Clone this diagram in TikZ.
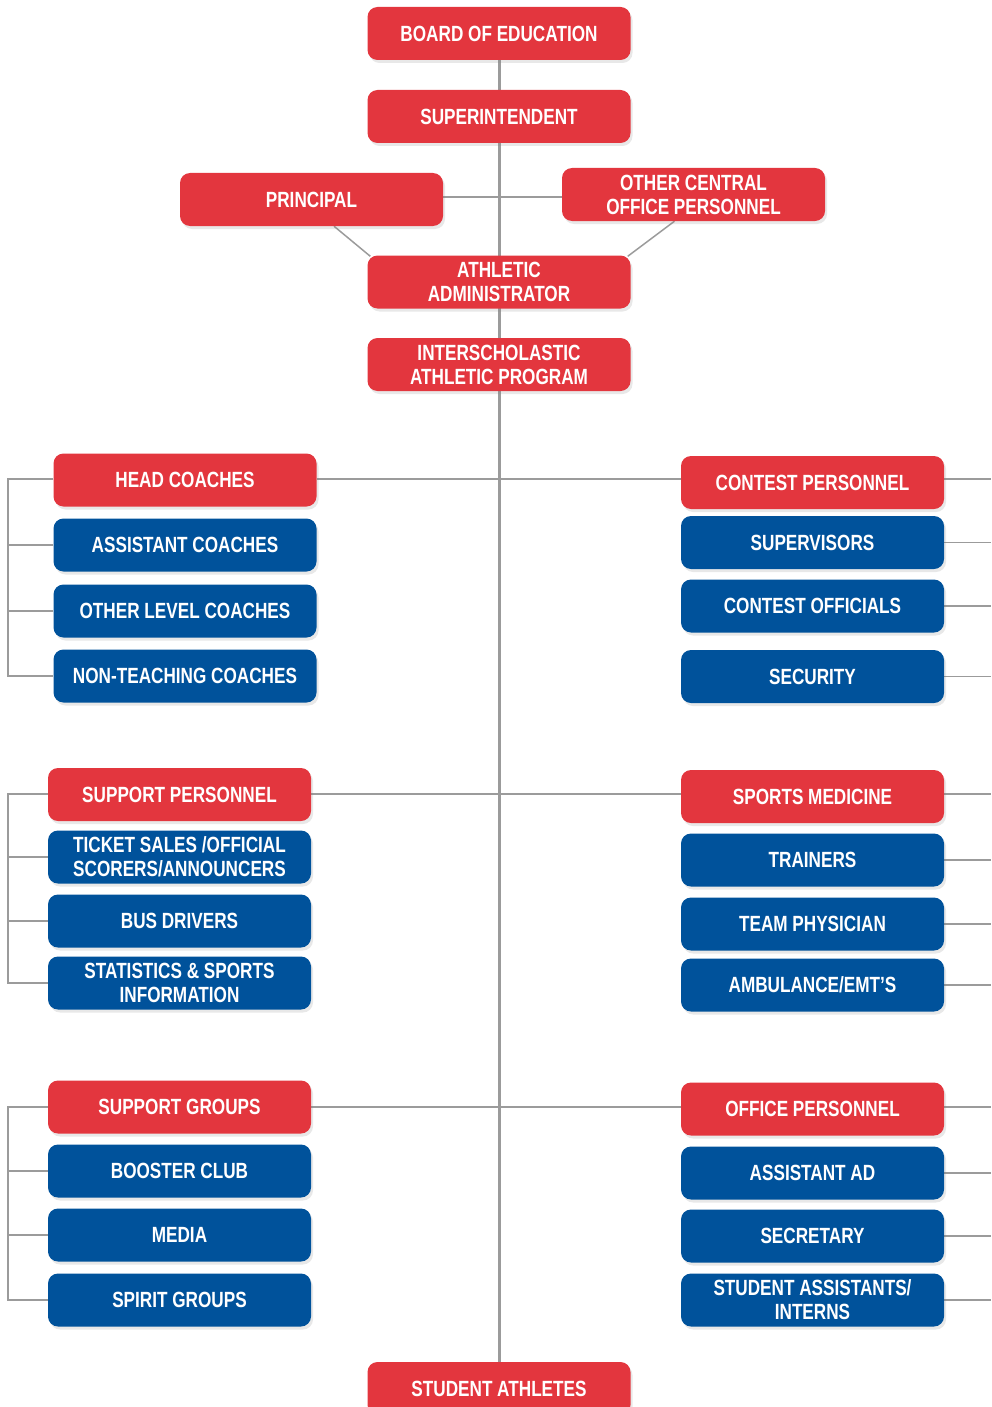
\documentclass[tikz,border=0pt]{standalone}
\usepackage{fontspec}
\setmainfont{Liberation Sans}[FakeStretch=0.78]
\usetikzlibrary{shadows,backgrounds}
\definecolor{boxred}{HTML}{E3363E}
\definecolor{boxblue}{HTML}{00529B}
\definecolor{linegray}{HTML}{9B9B9B}
\begin{document}
\begin{tikzpicture}[x=1pt,y=-1pt,
  box/.style={rectangle, rounded corners=10pt, minimum width=263pt, minimum height=53pt,
    inner sep=0pt, text=white, font=\fontsize{22}{24}\selectfont\bfseries, align=center,
    drop shadow={opacity=0.18, shadow xshift=2pt, shadow yshift=-3pt}},
  redbox/.style={box, fill=boxred},
  bluebox/.style={box, fill=boxblue},
  trunk/.style={draw=linegray, line width=3pt},
  conn/.style={draw=linegray, line width=1.5pt}]
\useasboundingbox (0,0) rectangle (991,1407);
\clip (0,0) rectangle (991,1407);

% top chain
\node[redbox] (board) at (499,33.5) {BOARD OF EDUCATION};
\node[redbox] (sup) at (499,116.5) {SUPERINTENDENT};
\node[redbox] (prin) at (311.5,199.5) {PRINCIPAL};
\node[redbox] (ocp) at (693.5,194.5) {OTHER CENTRAL\\OFFICE PERSONNEL};
\node[redbox] (ad) at (499,282) {ATHLETIC\\ADMINISTRATOR};
\node[redbox] (iap) at (499,364.5) {INTERSCHOLASTIC\\ATHLETIC PROGRAM};
\node[redbox] (stud) at (499,1388.5) {STUDENT ATHLETES};

% left groups
\node[redbox] (hc) at (185,480) {HEAD COACHES};
\node[bluebox] (ac) at (185,545) {ASSISTANT COACHES};
\node[bluebox] (olc) at (185,611) {OTHER LEVEL COACHES};
\node[bluebox] (ntc) at (185,676) {NON-TEACHING COACHES};

\node[redbox] (sp) at (179.5,794.5) {SUPPORT PERSONNEL};
\node[bluebox] (ts) at (179.5,857) {TICKET SALES /OFFICIAL\\SCORERS/ANNOUNCERS};
\node[bluebox] (bd) at (179.5,921) {BUS DRIVERS};
\node[bluebox] (st) at (179.5,983) {STATISTICS \& SPORTS\\INFORMATION};

\node[redbox] (sg) at (179.5,1107) {SUPPORT GROUPS};
\node[bluebox] (bc) at (179.5,1171) {BOOSTER CLUB};
\node[bluebox] (md) at (179.5,1235) {MEDIA};
\node[bluebox] (spg) at (179.5,1300) {SPIRIT GROUPS};

% right groups
\node[redbox] (cp) at (812.5,482.5) {CONTEST PERSONNEL};
\node[bluebox] (sv) at (812.5,542.5) {SUPERVISORS};
\node[bluebox] (co) at (812.5,606) {CONTEST OFFICIALS};
\node[bluebox] (sec) at (812.5,676.5) {SECURITY};

\node[redbox] (sm) at (812.5,796.5) {SPORTS MEDICINE};
\node[bluebox] (tr) at (812.5,860) {TRAINERS};
\node[bluebox] (tp) at (812.5,924) {TEAM PHYSICIAN};
\node[bluebox] (amb) at (812.5,985) {AMBULANCE/EMT’S};

\node[redbox] (op) at (812.5,1109) {OFFICE PERSONNEL};
\node[bluebox] (aad) at (812.5,1173) {ASSISTANT AD};
\node[bluebox] (secr) at (812.5,1236) {SECRETARY};
\node[bluebox] (sa) at (812.5,1300) {STUDENT ASSISTANTS/\\INTERNS};

\coordinate (mid) at (499,197);
\coordinate (g1) at (499,479);
\coordinate (g2) at (499,794);
\coordinate (g3) at (499,1107);
\coordinate (lx) at (8,0);
\coordinate (rx) at (991,0);

\begin{pgfonlayer}{background}
  \draw[trunk] (board) -- (stud);
  \draw[conn] (prin.east |- mid) -- (ocp.west |- mid);
  \draw[conn] ([xshift=22.5pt]prin.south) -- ([xshift=3pt,yshift=-1pt]ad.north west);
  \draw[conn] ([xshift=-19pt]ocp.south) -- ([xshift=-3pt,yshift=-1pt]ad.north east);
  % group 1
  \draw[conn] (hc.east |- g1) -- (cp.west |- g1);
  \draw[conn] (hc.west |- g1) -| (lx |- ntc.west) -- (ntc.west);
  \draw[conn] (ac.west) -- (ac.west -| lx);
  \draw[conn] (olc.west) -- (olc.west -| lx);
  \draw[conn] (cp.east |- g1) -- (rx |- g1);
  \draw[conn] (sv.east) -- (sv.east -| rx);
  \draw[conn] (co.east) -- (co.east -| rx);
  \draw[conn] (sec.east) -- (sec.east -| rx);
  % group 2
  \draw[conn] (sp.east |- g2) -- (sm.west |- g2);
  \draw[conn] (sp.west |- g2) -| (lx |- st.west) -- (st.west);
  \draw[conn] (ts.west) -- (ts.west -| lx);
  \draw[conn] (bd.west) -- (bd.west -| lx);
  \draw[conn] (sm.east |- g2) -- (rx |- g2);
  \draw[conn] (tr.east) -- (tr.east -| rx);
  \draw[conn] (tp.east) -- (tp.east -| rx);
  \draw[conn] (amb.east) -- (amb.east -| rx);
  % group 3
  \draw[conn] (sg.east |- g3) -- (op.west |- g3);
  \draw[conn] (sg.west |- g3) -| (lx |- spg.west) -- (spg.west);
  \draw[conn] (bc.west) -- (bc.west -| lx);
  \draw[conn] (md.west) -- (md.west -| lx);
  \draw[conn] (op.east |- g3) -- (rx |- g3);
  \draw[conn] (aad.east) -- (aad.east -| rx);
  \draw[conn] (secr.east) -- (secr.east -| rx);
  \draw[conn] (sa.east) -- (sa.east -| rx);
\end{pgfonlayer}
\end{tikzpicture}
\end{document}
